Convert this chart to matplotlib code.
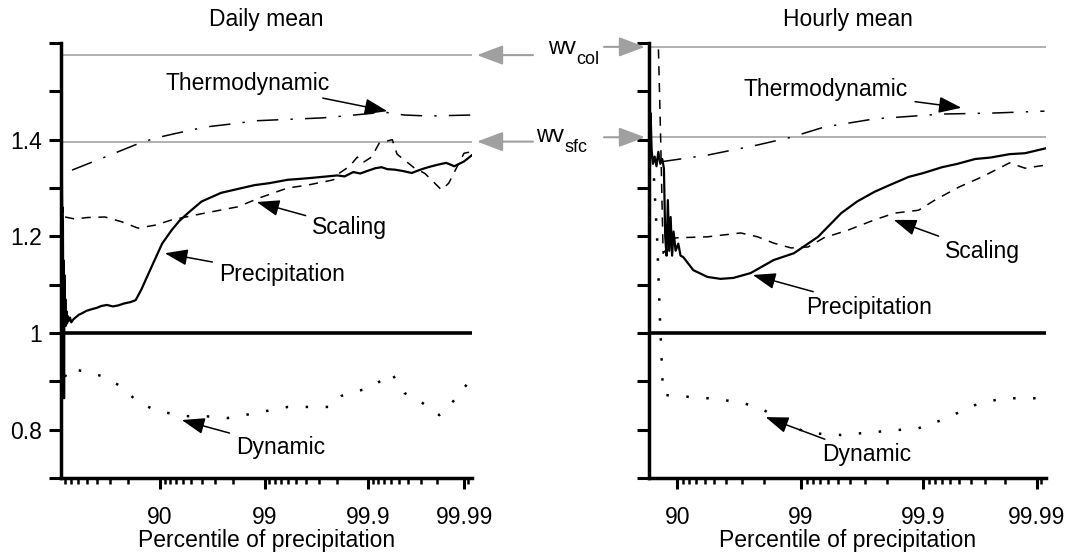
import numpy as np
import matplotlib.pyplot as plt

plt.rcParams['font.family'] = ['Liberation Sans', 'DejaVu Sans']

# ---------------- daily mean ----------------
d_precip_p = [12.5, 13.2, 13.9, 14.5, 15.2, 15.9, 16.6, 17.3, 18.0, 18.7, 19.5,
              20.3, 21.2, 22.2, 23.3, 24.5, 26, 28, 30, 33, 37, 41, 45, 50, 55,
              60, 64, 68, 72, 75, 78, 81, 83, 85, 87, 88.8, 90.5, 92.3, 93.5,
              94.6, 96, 97.4, 98.2, 98.76, 99.1, 99.4, 99.55, 99.65, 99.72,
              99.8, 99.83, 99.86, 99.88, 99.9, 99.915, 99.926, 99.935, 99.945,
              99.955, 99.963, 99.968, 99.972, 99.976, 99.98, 99.984, 99.987,
              99.99, 99.992]
d_precip_v = [1.30, 1.352, 1.33, 1.25, 1.26, 1.23, 1.05, 1.15, 0.865, 1.12,
              1.02, 1.07, 1.015, 1.045, 1.02, 1.035, 1.025, 1.032, 1.022, 1.028,
              1.033, 1.038, 1.041, 1.046, 1.049, 1.052, 1.056, 1.058, 1.055,
              1.057, 1.061, 1.064, 1.068, 1.090, 1.12, 1.151, 1.185, 1.213,
              1.232, 1.248, 1.272, 1.290, 1.298, 1.306, 1.310, 1.317, 1.319,
              1.321, 1.323, 1.326, 1.324, 1.333, 1.330, 1.336, 1.341, 1.343,
              1.339, 1.338, 1.335, 1.331, 1.336, 1.340, 1.344, 1.348, 1.352,
              1.345, 1.355, 1.368]

d_thermo_p = [31.1, 50, 70, 82.7, 88.8, 93, 96.27, 98.2, 98.76, 99.4, 99.72,
              99.863, 99.93, 99.956, 99.975, 99.992]
d_thermo_v = [1.337, 1.349, 1.368, 1.389, 1.403, 1.413, 1.426, 1.434, 1.439,
              1.442, 1.445, 1.451, 1.457, 1.451, 1.449, 1.451]

d_scaling_p = [19.8, 35, 51.5, 66.6, 77.0, 83.8, 88.84, 92.31, 96.27, 98.19,
               98.93, 99.399, 99.613, 99.772, 99.787, 99.81, 99.848, 99.872,
               99.886, 99.907, 99.922, 99.942, 99.948, 99.965, 99.973, 99.982,
               99.985, 99.988, 99.990, 99.992]
d_scaling_v = [1.240, 1.236, 1.239, 1.240, 1.230, 1.217, 1.223, 1.234, 1.248,
               1.261, 1.281, 1.300, 1.306, 1.316, 1.318, 1.331, 1.345, 1.364,
               1.352, 1.364, 1.393, 1.400, 1.370, 1.342, 1.330, 1.296, 1.310,
               1.345, 1.372, 1.375]

d_dyn_p = [19.8, 25.1, 51.5, 66.6, 77.0, 83.8, 88.84, 93.83, 96.27, 97.75,
           98.76, 99.40, 99.772, 99.818, 99.907, 99.941, 99.956, 99.9705,
           99.981, 99.987, 99.992]
d_dyn_v = [0.909, 0.927, 0.919, 0.909, 0.888, 0.857, 0.841, 0.828, 0.828,
           0.824, 0.834, 0.847, 0.847, 0.870, 0.888, 0.917, 0.876, 0.857,
           0.830, 0.861, 0.907]

# ---------------- hourly mean ----------------
h_precip_p = [83.3, 83.6, 83.9, 84.3, 84.8, 85.3, 85.8, 86.3, 86.8, 87.2, 87.5,
              87.8, 88.1, 88.4, 88.7, 89.0, 89.3, 89.7, 90.2, 90.6, 91.07,
              92.59, 94.30, 95.53, 96.49, 97.45, 98.34, 98.86, 99.274, 99.529,
              99.65, 99.747, 99.81, 99.8676, 99.9, 99.9298, 99.948, 99.9633,
              99.973, 99.9818, 99.987, 99.9923]
h_precip_v = [1.30, 1.455, 1.38, 1.35, 1.365, 1.345, 1.375, 1.35, 1.36, 1.34,
              1.20, 1.16, 1.275, 1.17, 1.24, 1.16, 1.21, 1.17, 1.185, 1.16,
              1.157, 1.130, 1.116, 1.112, 1.114, 1.124, 1.151, 1.165, 1.199,
              1.248, 1.272, 1.292, 1.306, 1.323, 1.331, 1.343, 1.350, 1.360,
              1.363, 1.370, 1.372, 1.383]

h_thermo_p = [86.25, 94.30, 97.76, 98.80, 99.35, 99.747, 99.9298, 99.974,
              99.9917]
h_thermo_v = [1.354, 1.368, 1.389, 1.405, 1.426, 1.443, 1.453, 1.455, 1.459]

h_scaling_p = [85.3, 86.4, 87.0, 87.5, 89.0, 90.0, 94.3, 96.93, 97.76, 98.34,
               98.80, 99.125, 99.35, 99.587, 99.747, 99.827, 99.890, 99.9195,
               99.9495, 99.968, 99.9818, 99.987, 99.9923]
h_scaling_v = [1.75, 1.40, 1.165, 1.17, 1.195, 1.197, 1.199, 1.207, 1.199,
               1.186, 1.176, 1.178, 1.197, 1.213, 1.234, 1.248, 1.254, 1.275,
               1.302, 1.323, 1.352, 1.341, 1.348]

h_dyn_p = [84.6, 85.5, 86.25, 87.0, 94.3, 96.93, 98.0, 98.63, 99.125, 99.529,
           99.747, 99.890, 99.9298, 99.9633, 99.979, 99.9907]
h_dyn_v = [1.32, 1.19, 1.02, 0.872, 0.865, 0.857, 0.841, 0.814, 0.793, 0.789,
           0.795, 0.803, 0.820, 0.851, 0.865, 0.865]

wv_daily = [1.575, 1.396]   # col, sfc
wv_hourly = [1.592, 1.405]
wv_names = ['col', 'sfc']

major_p = [90, 99, 99.9, 99.99]
major_lab = ['90', '99', '99.9', '99.99']
ylabels = {0.8: '0.8', 1.0: '1', 1.2: '1.2', 1.4: '1.4'}

FS = 16.5
C0 = 0.0025


def fwd(p):
    p = np.asarray(p, dtype=float)
    return -np.log10(np.clip(100 + C0 - p, 1e-9, None))


def inv(t):
    return 100 + C0 - 10 ** (-np.asarray(t, dtype=float))


fig = plt.figure(figsize=(10.7, 5.56), dpi=100)
W, H = 1070, 556
ax1 = fig.add_axes([61 / W, 1 - 478 / H, 411 / W, 435 / H])
ax2 = fig.add_axes([649 / W, 1 - 478 / H, 397 / W, 435 / H])

minor_p = [100 - k * 10.0 ** d for d in range(-3, 2) for k in range(2, 10)]


def setup(ax, xmin, title, show_labels, wv):
    ax.set_xscale('function', functions=(fwd, inv))
    ax.set_xlim(xmin, 99.992)
    ax.set_ylim(0.7, 1.6)
    for s in ['top', 'right']:
        ax.spines[s].set_visible(False)
    for s in ['left', 'bottom']:
        ax.spines[s].set_linewidth(2.5)
    ax.set_xticks(major_p)
    ax.set_xticklabels(major_lab)
    ax.set_xticks([m for m in minor_p if xmin < m < 99.992], minor=True)
    yt = np.round(np.arange(0.7, 1.61, 0.1), 1)
    ax.set_yticks(yt)
    if show_labels:
        ax.set_yticklabels([ylabels.get(v, '') for v in yt])
    else:
        ax.set_yticklabels([])
    ax.tick_params(axis='x', which='major', direction='out', length=8,
                   width=2.2, labelsize=FS, pad=12)
    ax.tick_params(axis='x', which='minor', direction='out', length=4,
                   width=1.8)
    ax.tick_params(axis='y', which='major', direction='out', length=9,
                   width=2.2, labelsize=FS, pad=5)
    ax.set_title(title, fontsize=FS, pad=12)
    ax.set_xlabel('Percentile of precipitation', fontsize=FS, labelpad=0)
    for v in wv:
        ax.axhline(v, color='#aaaaaa', lw=1.3, zorder=1)
    ax.axhline(1.0, color='black', lw=2.6, zorder=2)


setup(ax1, 12.3, 'Daily mean', True, wv_daily)
setup(ax2, 83.1, 'Hourly mean', False, wv_hourly)

for ax, (pp, pv, tp, tv, sp, sv, dp, dv) in [
        (ax1, (d_precip_p, d_precip_v, d_thermo_p, d_thermo_v,
               d_scaling_p, d_scaling_v, d_dyn_p, d_dyn_v)),
        (ax2, (h_precip_p, h_precip_v, h_thermo_p, h_thermo_v,
               h_scaling_p, h_scaling_v, h_dyn_p, h_dyn_v))]:
    ax.plot(pp, pv, color='black', lw=1.6, zorder=4)
    ax.plot(tp, tv, color='black', lw=1.1, dashes=(14, 8, 1.5, 8), zorder=3)
    ax.plot(sp, sv, color='black', lw=1.1, dashes=(6, 5), zorder=3)
    ax.plot(dp, dv, color='black', lw=1.8, dashes=(1, 7), zorder=3)

arrow = dict(arrowstyle='-|>,head_length=0.7,head_width=0.25', color='black',
             lw=1.1, mutation_scale=20, shrinkA=3, shrinkB=0)

ann1 = [('Thermodynamic', (99.935, 1.459), (0.455, 0.908)),
        ('Scaling', (98.81, 1.271), (0.703, 0.575)),
        ('Precipitation', (91.04, 1.165), (0.538, 0.467)),
        ('Dynamic', (93.83, 0.820), (0.535, 0.071))]
ann2 = [('Thermodynamic', (99.952, 1.466), (0.446, 0.892)),
        ('Scaling', (99.824, 1.234), (0.839, 0.520)),
        ('Precipitation', (97.55, 1.120), (0.554, 0.393)),
        ('Dynamic', (98.07, 0.826), (0.549, 0.053))]
for ax, anns in [(ax1, ann1), (ax2, ann2)]:
    for txt, xy, xyt in anns:
        ax.annotate(txt, xy=xy, xycoords='data', xytext=xyt,
                    textcoords='axes fraction', fontsize=FS, ha='center',
                    va='center', arrowprops=arrow)

# wv labels between the panels, with grey arrows to the reference lines
gray = dict(arrowstyle='-|>,head_length=0.8,head_width=0.3', color='#a0a0a0',
            lw=1.5, mutation_scale=20, shrinkA=0, shrinkB=0)
label_pos = [(562, 47, 588, 59), (550, 136, 576, 148)]
for name, v1, v2, (wx, wy, sx, sy) in zip(wv_names, wv_daily, wv_hourly,
                                          label_pos):
    fig.text(wx / W, 1 - wy / H, 'wv', fontsize=FS, ha='center',
             va='center')
    fig.text(sx / W, 1 - sy / H, name, fontsize=13, ha='center',
             va='center')
    ax1.annotate('', xy=(1.012, v1), xycoords=('axes fraction', 'data'),
                 xytext=((533 - 61) / 411, v1),
                 textcoords=('axes fraction', 'data'),
                 arrowprops=gray, annotation_clip=False)
    ax2.annotate('', xy=(-0.01, v2), xycoords=('axes fraction', 'data'),
                 xytext=((604 - 649) / 397, v2),
                 textcoords=('axes fraction', 'data'),
                 arrowprops=gray, annotation_clip=False)

fig.savefig('out.png', dpi=100)
